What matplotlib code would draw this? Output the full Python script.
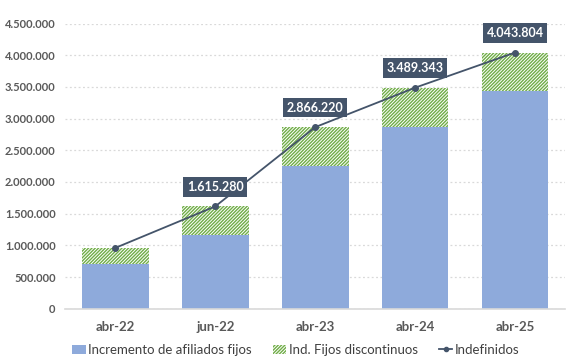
import numpy as np
import matplotlib.pyplot as plt
from matplotlib.lines import Line2D
from matplotlib.patches import Patch

# Datos
periodos = ['abr-22', 'jun-22', 'abr-23', 'abr-24', 'abr-25']
fijos = [700000, 1160000, 2255000, 2870000, 3430000]
indefinidos = [960000, 1615280, 2866220, 3489343, 4043804]
discontinuos = [t - f for t, f in zip(indefinidos, fijos)]
etiquetas = [None, '1.615.280', '2.866.220', '3.489.343', '4.043.804']

plt.rcParams['font.family'] = ['Lato', 'DejaVu Sans']
plt.rcParams['hatch.linewidth'] = 1.0

azul = '#8eaadb'
verde = '#70ad47'
navy = '#44546a'
gris = '#595959'

fig = plt.figure(figsize=(5.69, 3.64), dpi=100)
ax = fig.add_axes([0.115, 0.152, 0.878, 0.783])

x = np.arange(len(periodos))
ax.bar(x, fijos, width=0.667, color=azul, linewidth=0, zorder=2)
ax.bar(x, discontinuos, width=0.667, bottom=fijos, color='white',
       edgecolor=verde, hatch='//////////', linewidth=0, zorder=2)
ax.plot(x, indefinidos, color=navy, lw=1.3, marker='o', ms=4, zorder=3)

for xi, yi, txt in zip(x, indefinidos, etiquetas):
    if txt is None:
        continue
    ax.annotate(txt, (xi, yi), xytext=(0, 14), textcoords='offset points',
                ha='center', va='center', color='white', fontsize=9,
                fontweight='bold',
                bbox=dict(boxstyle='square,pad=0.3', fc=navy, ec='none'),
                zorder=4)

ax.set_xlim(-0.5, 4.5)
ax.set_ylim(0, 4500000)
ax.set_yticks(np.arange(0, 4500001, 500000))
ax.set_yticklabels(['0'] + [f'{v:,}'.replace(',', '.') for v in range(500000, 4500001, 500000)])
ax.set_xticks(x)
ax.set_xticklabels(periodos)

ax.grid(axis='y', color='#d9d9d9', linestyle=(0, (1.5, 2)), lw=0.9, zorder=0)
for s in ['top', 'right', 'left']:
    ax.spines[s].set_visible(False)
ax.spines['bottom'].set_color('#d9d9d9')
ax.spines['bottom'].set_linewidth(1.2)
ax.tick_params(axis='y', length=0, labelsize=8, labelcolor=gris, pad=7)
ax.tick_params(axis='x', length=0, labelsize=9.5, labelcolor=gris, pad=9)
for lbl in ax.get_yticklabels() + ax.get_xticklabels():
    lbl.set_fontweight('bold')

handles = [Patch(fc=azul, ec='none'),
           Patch(fc='white', ec=verde, hatch='//////////', lw=0),
           Line2D([0], [0], color=navy, marker='o', ms=3, lw=1.3)]
labels = ['Incremento de afiliados fijos', 'Ind. Fijos discontinuos', 'Indefinidos']
fig.legend(handles, labels, loc='lower center', bbox_to_anchor=(0.52, -0.01),
           ncol=3, frameon=False, fontsize=9.5, handlelength=1.0,
           handletextpad=0.2, columnspacing=1.6, labelcolor='#404040')

fig.savefig('out.png', dpi=100)
